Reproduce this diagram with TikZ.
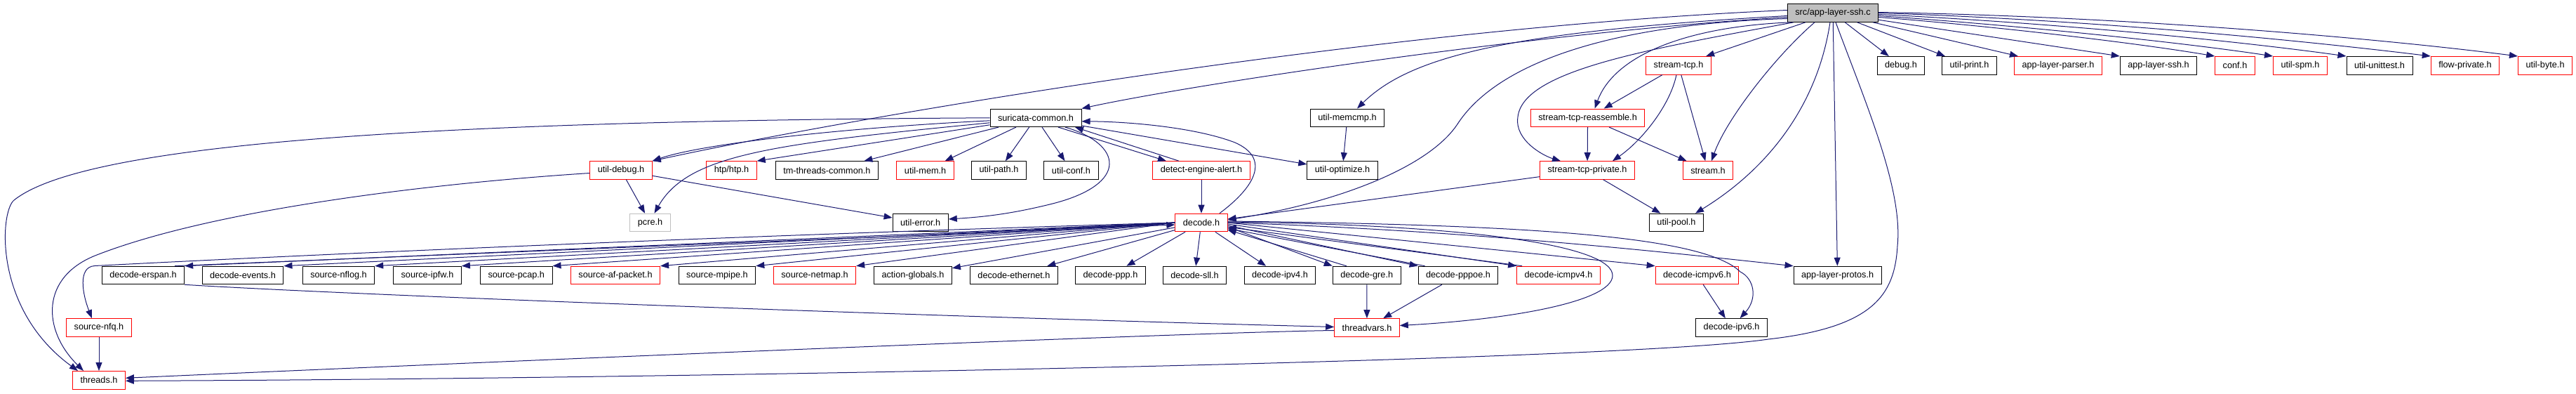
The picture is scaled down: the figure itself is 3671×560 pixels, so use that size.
\documentclass[tikz,border=0pt]{standalone}
\usepackage{fontspec}
\setmainfont{Liberation Sans}
\usepackage{xcolor}
\usepackage{tikz}
\usetikzlibrary{arrows.meta}
\definecolor{edgeblue}{HTML}{191970}
\definecolor{rootgray}{HTML}{BFBFBF}

\begin{document}
\begin{tikzpicture}[x=1pt,y=-1pt,
	hfile/.style={draw=black, line width=1pt, minimum height=25.6pt, inner xsep=11pt, inner ysep=0pt, font={\fontsize{12.7}{14}\selectfont}},
	hred/.style={hfile, draw=red},
	hgray/.style={hfile, draw=rootgray},
	hroot/.style={hfile, fill=rootgray},
	inc/.style={edgeblue, line width=1pt, -{Triangle[length=12pt,width=9pt]}}]
	\useasboundingbox (0,0) rectangle (3671,560);

	% files
	\node[hroot] (ssh) at (2612,18.5) {src/app-layer-ssh.c};

	\node[hred]  (stcp)     at (2392,93.3)   {stream-tcp.h};
	\node[hfile] (debug)    at (2709,93.3)   {debug.h};
	\node[hfile] (uprint)   at (2806.5,93.3) {util-print.h};
	\node[hred]  (alparser) at (2933,93.3)   {app-layer-parser.h};
	\node[hfile] (alssh)    at (3076,93.3)   {app-layer-ssh.h};
	\node[hred]  (conf)     at (3185,93.3)   {conf.h};
	\node[hred]  (uspm)     at (3278,93.3)   {util-spm.h};
	\node[hfile] (uunit)    at (3391,93.3)   {util-unittest.h};
	\node[hred]  (flowpriv) at (3513,93.3)   {flow-private.h};
	\node[hred]  (ubyte)    at (3627,93.3)   {util-byte.h};

	\node[hfile] (scommon) at (1476,167.8)   {suricata-common.h};
	\node[hfile] (umemcmp) at (1920,167.8)   {util-memcmp.h};
	\node[hred]  (stcreas) at (2262.6,167.8) {stream-tcp-reassemble.h};

	\node[hred]  (udebug)   at (885,242.5)    {util-debug.h};
	\node[hred]  (htp)      at (1042.5,242.5) {htp/htp.h};
	\node[hfile] (tmcommon) at (1178.4,242.5) {tm-threads-common.h};
	\node[hred]  (umem)     at (1318.6,242.5) {util-mem.h};
	\node[hfile] (upath)    at (1423.5,242.5) {util-path.h};
	\node[hfile] (uconf)    at (1526.5,242.5) {util-conf.h};
	\node[hred]  (dealert)  at (1712,242.5)   {detect-engine-alert.h};
	\node[hfile] (uoptim)   at (1913,242.5)   {util-optimize.h};
	\node[hred]  (stcpriv)  at (2262,242.5)   {stream-tcp-private.h};
	\node[hred]  (stream)   at (2434,242.5)   {stream.h};

	\node[hgray] (pcre)   at (926.5,317)  {pcre.h};
	\node[hfile] (uerror) at (1311.7,317) {util-error.h};
	\node[hred]  (decode) at (1712,317)   {decode.h};
	\node[hfile] (upool)  at (2389,317)   {util-pool.h};

	\node[hfile] (erspan)   at (204,392)    {decode-erspan.h};
	\node[hfile] (events)   at (346,392)    {decode-events.h};
	\node[hfile] (nflog)    at (482.5,392)  {source-nflog.h};
	\node[hfile] (ipfw)     at (609,392)    {source-ipfw.h};
	\node[hfile] (pcap)     at (735.8,392)  {source-pcap.h};
	\node[hred]  (afpacket) at (877,392)    {source-af-packet.h};
	\node[hfile] (mpipe)    at (1022,392)   {source-mpipe.h};
	\node[hred]  (netmap)   at (1161,392)   {source-netmap.h};
	\node[hfile] (actglob)  at (1301,392)   {action-globals.h};
	\node[hfile] (ethernet) at (1445,392)   {decode-ethernet.h};
	\node[hfile] (ppp)      at (1582.5,392) {decode-ppp.h};
	\node[hfile] (sll)      at (1702.5,392) {decode-sll.h};
	\node[hfile] (ipv4)     at (1824,392)   {decode-ipv4.h};
	\node[hfile] (gre)      at (1947.7,392) {decode-gre.h};
	\node[hfile] (pppoe)    at (2078,392)   {decode-pppoe.h};
	\node[hred]  (icmpv4)   at (2221,392)   {decode-icmpv4.h};
	\node[hred]  (icmpv6)   at (2418.5,392) {decode-icmpv6.h};
	\node[hfile] (alprotos) at (2618.6,392) {app-layer-protos.h};

	\node[hred]  (nfq)        at (141,466.5)    {source-nfq.h};
	\node[hred]  (threadvars) at (1948,466.5)   {threadvars.h};
	\node[hfile] (ipv6)       at (2467.6,466.5) {decode-ipv6.h};

	\node[hred]  (threads) at (141,541.3) {threads.h};

	% includes of src/app-layer-ssh.c
	\draw[inc] (ssh) -- (stcp);
	\draw[inc] (ssh) -- (debug);
	\draw[inc] (ssh) -- (uprint);
	\draw[inc] (ssh) -- (alparser);
	\draw[inc] (ssh) -- (alssh.north west);
	\draw[inc] ([yshift=-6pt]ssh.east) .. controls (2850,38) and (3050,62) .. (conf.north west);
	\draw[inc] ([yshift=-4pt]ssh.east) .. controls (2900,38) and (3120,62) .. (uspm.north west);
	\draw[inc] ([yshift=-2pt]ssh.east) .. controls (2950,34) and (3200,60) .. (uunit.north west);
	\draw[inc] (ssh.east) .. controls (3000,29) and (3300,60) .. (flowpriv.north west);
	\draw[inc] ([yshift=1pt]ssh.east) .. controls (3050,24) and (3400,56) .. (ubyte.north west);
	\draw[inc] ([xshift=-26pt]ssh.south) .. controls (2530,80) and (2460,170) .. ([xshift=5pt]stream.north);
	\draw[inc] ([xshift=-4pt]ssh.south) .. controls (2590,150) and (2520,240) .. ([xshift=-12pt]upool.north east);
	\draw[inc] (ssh) -- (alprotos);
	\draw[inc] ([xshift=4pt]ssh.south) .. controls (2660,150) and (2712,270) .. (2704,350)
		.. controls (2700,420) and (2670,466) .. (2520,483)
		.. controls (2300,515) and (900,540) .. ([yshift=-1pt]threads.east);
	\draw[inc] ([yshift=-8pt]ssh.west) .. controls (2280,35) and (2130,95) .. (2077,176.7)
		.. controls (2035,240) and (1900,290) .. ([yshift=4pt]decode.east);
	\draw[inc] ([yshift=-4pt]ssh.west) .. controls (2150,45) and (2010,80) .. ([xshift=14pt]umemcmp.north);
	\draw[inc] ([yshift=4pt]ssh.west) .. controls (1950,40) and (1200,170) .. (udebug.north east);
	\draw[inc] ([yshift=-6pt]ssh.west) .. controls (2200,45) and (1700,120) .. (scommon.north east);
	\draw[inc] ([xshift=-60pt]ssh.south) .. controls (2400,38) and (2300,80) .. ([xshift=10pt]stcreas.north);
	\draw[inc] ([xshift=-56pt]ssh.south) .. controls (2350,70) and (2170,100) .. (2163,166.7)
		.. controls (2158,200) and (2200,222) .. ([xshift=-38pt]stcpriv.north);

	% stream engine
	\draw[inc] (stcp) -- (stcreas);
	\draw[inc] ([xshift=-3pt]stcp.south) .. controls (2380,150) and (2340,200) .. ([xshift=36pt]stcpriv.north);
	\draw[inc] (stcp) -- (stream);
	\draw[inc] (stcreas) -- (stcpriv);
	\draw[inc] (stcreas) -- (stream);
	\draw[inc] (stcpriv) -- (decode);
	\draw[inc] (stcpriv) -- (upool);
	\draw[inc] (umemcmp) -- (uoptim);

	% suricata-common.h
	\draw[inc] (scommon.west) .. controls (600,172) and (120,205) .. (20,285)
		.. controls (0,301) and (-10,440) .. ([xshift=-30pt]threads.north);
	\draw[inc] ([yshift=-4pt]scommon.west) .. controls (1200,182) and (1000,205) .. (udebug.north east);
	\draw[inc] ([yshift=-7pt]scommon.west) .. controls (1100,205) and (980,220) .. ([xshift=6pt]pcre.north);
	\draw[inc] ([yshift=-10pt]scommon.west) -- (htp.north east);
	\draw[inc] (scommon) -- (tmcommon);
	\draw[inc] (scommon) -- (umem);
	\draw[inc] (scommon) -- (upath);
	\draw[inc] (scommon) -- (uconf);
	\draw[inc] ([xshift=32pt]scommon.south) -- ([xshift=-50pt]dealert.north);
	\draw[inc] ([xshift=-32pt]dealert.north) -- ([xshift=56pt]scommon.south);
	\draw[inc] ([xshift=42pt]scommon.south) .. controls (1600,205) and (1610,262) .. (1500,290)
		.. controls (1440,305) and (1400,309) .. ([yshift=5pt]uerror.east);
	\draw[inc] (scommon) -- (uoptim);

	% util-debug.h
	\draw[inc] ([yshift=-4pt]udebug.west) .. controls (600,262) and (300,300) .. (138,363)
		.. controls (57,394) and (60,470) .. ([xshift=-22pt]threads.north);
	\draw[inc] (udebug) -- (pcre);
	\draw[inc] (udebug) -- (uerror);

	% decode.h
	\draw[inc] (dealert) -- (decode);
	\draw[inc] ([xshift=26pt]decode.north) .. controls (1790,265) and (1810,225) .. (1760,203)
		.. controls (1700,180) and (1600,173) .. ([yshift=-5pt]scommon.east);
	\foreach \t in {erspan,events,nflog,ipfw,pcap,afpacket,mpipe,netmap}
		\draw[inc] (decode.west) -- (\t.north east);
	\foreach \t in {actglob,ethernet,ppp,sll,ipv4}
		\draw[inc] (decode) -- (\t);
	\draw[inc] ([xshift=-14pt]erspan.north east) -- ([yshift=-3pt]decode.west);
	\draw[inc] (decode.west) .. controls (900,340) and (300,370) .. (135,378.5)
		.. controls (110,380) and (118,420) .. ([xshift=-10pt]nfq.north);
	\draw[inc] ([yshift=-6pt]decode.east) -- (gre.north west);
	\draw[inc] ([xshift=20pt]gre.north west) -- ([yshift=3pt]decode.south east);
	\draw[inc] ([yshift=-4pt]decode.east) -- (pppoe.north west);
	\draw[inc] ([xshift=10pt]pppoe.north west) -- ([yshift=5pt]decode.south east);
	\draw[inc] ([yshift=-2pt]decode.east) -- (icmpv4.north west);
	\draw[inc] ([xshift=8pt]icmpv4.north west) -- ([yshift=7pt]decode.south east);
	\draw[inc] (decode.east) -- (icmpv6.north west);
	\draw[inc] ([yshift=1pt]decode.east) .. controls (2100,320) and (2300,350) .. (2298,393)
		.. controls (2296,430) and (2150,455) .. ([yshift=3pt]threadvars.east);
	\draw[inc] (decode.east) .. controls (2100,328) and (2400,362) .. (alprotos.north west);
	\draw[inc] ([yshift=2pt]decode.east) .. controls (2200,320) and (2430,338) .. (2480,387)
		.. controls (2500,397) and (2505,425) .. ([xshift=12pt]ipv6.north);

	% lower levels
	\draw[inc] (icmpv6) -- (ipv6);
	\draw[inc] (gre) -- (threadvars);
	\draw[inc] (pppoe) -- (threadvars);
	\draw[inc] (erspan.south east) .. controls (500,420) and (1300,450) .. ([yshift=1pt]threadvars.west);
	\draw[inc] ([yshift=-4pt]threadvars.west) .. controls (1700,473) and (700,515) .. ([yshift=3pt]threads.east);
	\draw[inc] (nfq) -- (threads);
\end{tikzpicture}
\end{document}
